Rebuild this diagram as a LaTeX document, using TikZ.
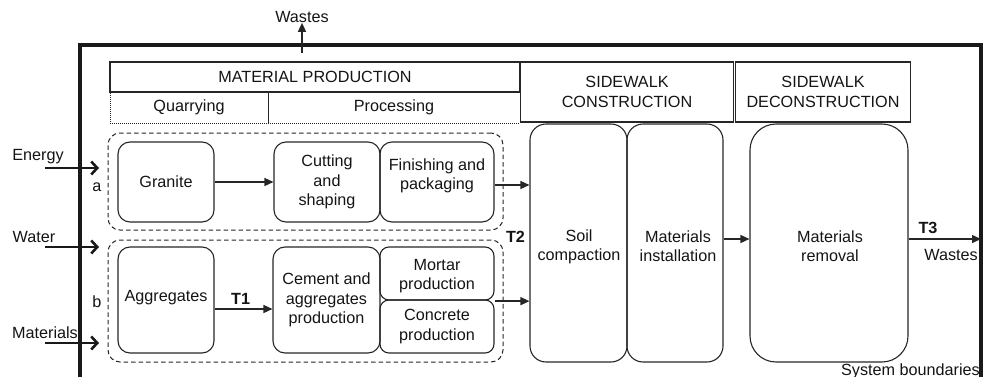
\documentclass[tikz,border=0pt]{standalone}
\usepackage{fontspec}
\setmainfont{Liberation Sans}
\usetikzlibrary{arrows.meta}

\begin{document}
\begin{tikzpicture}[x=1pt,y=-1pt,
  font=\fontsize{16.2}{19.3}\selectfont,
  every node/.style={text=black!92, inner sep=0pt, align=center},
  stagebox/.style={draw=black!85, line width=1.1pt, rounded corners=12pt},
  bigbox/.style={draw=black!85, line width=1.1pt, rounded corners=16pt},
  headbox/.style={draw=black!85, line width=1.1pt},
  subbox/.style={draw=black!85, line width=0.8pt, dash pattern=on 1pt off 1pt},
  group/.style={draw=black!85, line width=1pt, dash pattern=on 4.5pt off 3pt, rounded corners=12pt},
  flow/.style={draw=black!85, line width=1.4pt, -{Triangle[length=9pt,width=8pt]}},
  inflow/.style={draw=black!90, line width=2.6pt, -{Straight Barb[length=6pt,width=13pt,line width=2.6pt]}},
  boundary/.style={draw=black!90, line width=3.2pt},
  tag/.style={font=\fontsize{16.2}{19.3}\selectfont\bfseries}
]
\useasboundingbox (0,0) rectangle (987,377);

% system boundary (open at the bottom)
\draw[boundary] (80,380) -- (80,45) -- (981,45) -- (981,380);
\node[anchor=base east] (sysb) at (980,375) {System boundaries};

% phase headers
\node[subbox, minimum width=158pt, minimum height=31pt] (quarry) at (189,107.5) {Quarrying};
\node[subbox, minimum width=252pt, minimum height=31pt] (process) at (394,107.5) {Processing};
\node[headbox, minimum width=410pt, minimum height=30pt] (matprod) at (315,77) {MATERIAL PRODUCTION};
\node[headbox, minimum width=213pt, minimum height=60pt] (swcons) at (627,92) {SIDEWALK\\CONSTRUCTION};
\node[headbox, minimum width=175pt, minimum height=60pt] (swdecons) at (823,92) {SIDEWALK\\DECONSTRUCTION};

% wastes leaving material production
\node (wtop) at (302,17) {Wastes};
\coordinate (wbase) at (302,53);
\draw[flow] (wbase) -- (wtop.south);

% production chains a and b
\node[group, minimum width=395pt, minimum height=97pt] (ga) at (305.5,181.5) {};
\node[group, minimum width=395pt, minimum height=122pt] (gb) at (305.5,301) {};
\node (la) at (97,187) {a};
\node (lb) at (97,302) {b};

\node[stagebox, minimum width=96pt, minimum height=80pt] (granite) at (166,182) {Granite};
\node[stagebox, minimum width=106pt, minimum height=80pt] (cut) at (327,182) {Cutting\\and\\shaping};
\node[stagebox, minimum width=114pt, minimum height=80pt] (finish) at (437,182) {};
\node (finishtxt) at (437,176) {Finishing and\\packaging};

\node[stagebox, minimum width=96pt, minimum height=106pt] (agg) at (166,300) {};
\node (aggtxt) at (166,298) {Aggregates};
\node[stagebox, minimum width=107pt, minimum height=106pt] (cement) at (326.5,300) {Cement and\\aggregates\\production};
\node[stagebox, rounded corners=9pt, minimum width=114pt, minimum height=53pt] (mortar) at (437,273.5) {};
\node (mortartxt) at (437,276) {Mortar\\production};
\node[stagebox, rounded corners=9pt, minimum width=114pt, minimum height=53pt] (concrete) at (437,326.5) {Concrete\\production};

% construction and deconstruction stages
\node[bigbox, minimum width=97pt, minimum height=238pt] (soil) at (578.5,243) {};
\node (soiltxt) at (579,246.5) {Soil\\compaction};
\node[bigbox, minimum width=96pt, minimum height=238pt] (install) at (675,243) {};
\node (installtxt) at (678,246.5) {Materials\\installation};
\node[bigbox, rounded corners=26pt, minimum width=158pt, minimum height=238pt] (removal) at (829,243) {};
\node (removaltxt) at (830,246.5) {Materials\\removal};

% flows
\draw[flow] (granite.east) -- (cut.west);
\draw[flow] ([yshift=-9pt]agg.east) -- ([yshift=-9pt]agg.east -| cement.west)
  node[tag, pos=0.45, above=4pt] (t1) {T1};
\draw[flow] ([yshift=-3pt]finish.east) -- ([yshift=-3pt]finish.east -| soil.west);
\draw[flow] ([yshift=-0.6pt]mortar.south east) -- ([yshift=-0.6pt]mortar.south east -| soil.west);
\node[tag] (t2) at (515.5,237) {T2};
\draw[flow] ([yshift=4pt]install.east) -- ([yshift=4pt]install.east -| removal.west);
\coordinate (t3end) at (981,239);
\draw[flow] (removal.east |- t3end) -- (t3end);
\node[tag] (t3) at (928,228) {T3};
\node (wright) at (951,255) {Wastes};

% inputs crossing the boundary
\node (energy) at (38,157) {Energy};
\node (water) at (34,237) {Water};
\node (mats) at (45,333) {Materials};
\coordinate (e0) at (45,168); \coordinate (e1) at (99,168);
\coordinate (w0) at (45,247); \coordinate (w1) at (99,247);
\coordinate (m0) at (45,343); \coordinate (m1) at (99,343);
\draw[inflow] (e0) -- (e1);
\draw[inflow] (w0) -- (w1);
\draw[inflow] (m0) -- (m1);
\end{tikzpicture}
\end{document}
